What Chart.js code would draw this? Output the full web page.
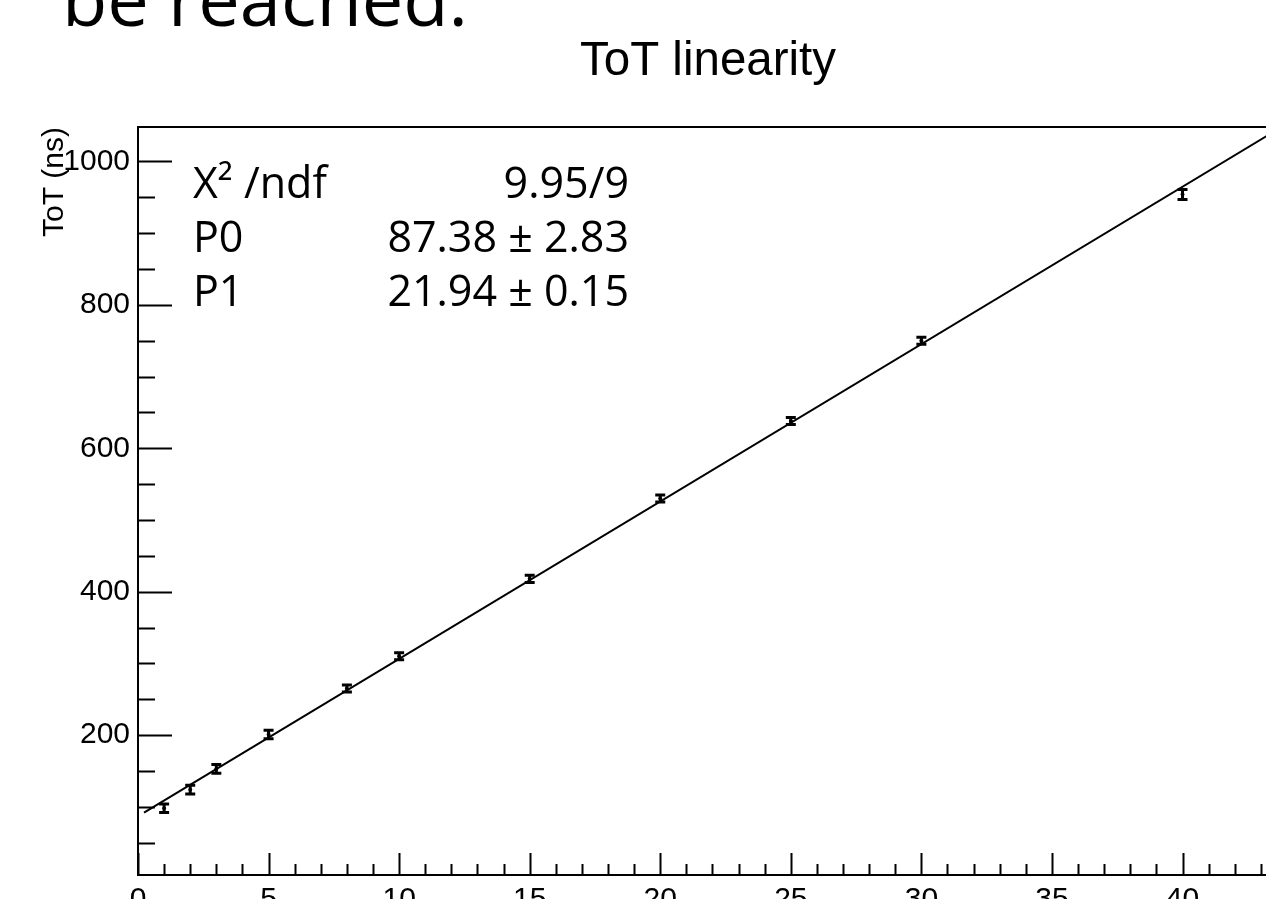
<!DOCTYPE html>
<html>
<head>
<meta charset="utf-8">
<title>ToT linearity</title>
<script src="https://cdn.jsdelivr.net/npm/chart.js@4"></script>
<style>
    html, body { margin: 0; padding: 0; background: #fff; overflow: hidden; width: 1266px; height: 899px; }
    #wrap { position: absolute; left: 0; top: 0; width: 1416px; height: 960px; }
    .slide { position: absolute; left: 62px; top: -39px; font-family: 'Open Sans', sans-serif; font-size: 74px; line-height: 74px; white-space: nowrap; color: #000; }
    .stat { position: absolute; font-family: 'Open Sans', sans-serif; font-size: 43px; line-height: 54px; white-space: nowrap; color: #000; }
    .num { width: 300px; text-align: right; }
</style>
</head>
<body>
<div class="slide">be reached.</div>
<div id="wrap"><canvas id="totChart"></canvas></div>

<div class="stat" style="left:193px; top:155px;">X² /ndf</div>
<div class="stat num" style="left:329px; top:155px;">9.95/9</div>
<div class="stat" style="left:193px; top:209px;">P0</div>
<div class="stat num" style="left:329px; top:209px;">87.38 ± 2.83</div>
<div class="stat" style="left:193px; top:263px;">P1</div>
<div class="stat num" style="left:329px; top:263px;">21.94 ± 0.15</div>

<script>
const pulseX = [1, 2, 3, 5, 8, 10, 15, 20, 25, 30, 40];
const totValues = [98, 124, 153, 201, 265, 310, 418, 530, 638, 750, 954];
const totErrors = [6, 6, 6, 6, 5, 5, 5, 5, 5, 5, 7];

// 피팅 직선 양 끝점
const fitX = [0.23, 43.8];
const fitY = [92, 1048];

// 축 눈금
const xTicks = [0, 5, 10, 15, 20, 25, 30, 35, 40, 45];
const yTicks = [200, 400, 600, 800, 1000];
const xMinorStep = 1;
const yMinorStep = 50;

Chart.defaults.font.family = "'Liberation Sans', Arial, sans-serif";
Chart.defaults.color = '#000';

// ROOT 스타일: 안쪽 눈금, 위/오른쪽 테두리, 오차 막대
const rootFrame = {
    id: 'rootFrame',
    afterDatasetsDraw(chart) {
        const { ctx, chartArea: a, scales: { x, y } } = chart;
        ctx.save();
        ctx.strokeStyle = '#000';
        ctx.lineWidth = 2;
        ctx.beginPath();
        ctx.moveTo(a.left, a.top);
        ctx.lineTo(a.right, a.top);
        ctx.lineTo(a.right, a.bottom);

        for (let v = x.min; v <= x.max + 1e-9; v += xMinorStep) {
            const px = Math.round(x.getPixelForValue(v)) + 0.5;
            const len = xTicks.includes(v) ? 22 : 11;
            ctx.moveTo(px, a.bottom);
            ctx.lineTo(px, a.bottom - len);
        }
        for (let v = Math.ceil(y.min / yMinorStep) * yMinorStep; v <= y.max; v += yMinorStep) {
            const py = Math.round(y.getPixelForValue(v)) + 0.5;
            const len = yTicks.includes(v) ? 34 : 17;
            ctx.moveTo(a.left, py);
            ctx.lineTo(a.left + len, py);
        }
        ctx.stroke();

        // 오차 막대
        ctx.lineWidth = 3;
        ctx.beginPath();
        pulseX.forEach((xv, i) => {
            const px = x.getPixelForValue(xv);
            const top = y.getPixelForValue(totValues[i] + totErrors[i]);
            const bot = y.getPixelForValue(totValues[i] - totErrors[i]);
            ctx.moveTo(px, top);
            ctx.lineTo(px, bot);
            ctx.moveTo(px - 5, top);
            ctx.lineTo(px + 5, top);
            ctx.moveTo(px - 5, bot);
            ctx.lineTo(px + 5, bot);
        });
        ctx.stroke();
        ctx.restore();
    }
};

function initChart() {
    const ctx = document.getElementById('totChart').getContext('2d');
    new Chart(ctx, {
        type: 'scatter',
        data: {
            datasets: [{
                label: 'fit',
                data: fitX.map((v, i) => ({ x: v, y: fitY[i] })),
                showLine: true,
                borderColor: '#000',
                borderWidth: 2,
                pointRadius: 0
            }, {
                label: 'ToT',
                data: pulseX.map((v, i) => ({ x: v, y: totValues[i] })),
                backgroundColor: '#000',
                borderColor: '#000',
                pointRadius: 1.5
            }]
        },
        options: {
            responsive: false,
            animation: false,
            layout: { padding: 0 },
            plugins: {
                legend: { display: false },
                tooltip: { enabled: false },
                title: {
                    display: true,
                    text: 'ToT linearity',
                    color: '#000',
                    font: { size: 47.5, weight: 'normal', lineHeight: 1.2 },
                    padding: { top: 33, bottom: 37 }
                }
            },
            scales: {
                x: {
                    type: 'linear',
                    min: 0,
                    max: 48.75,
                    grid: { display: false },
                    border: { display: true, color: '#000', width: 2 },
                    ticks: { font: { size: 30 }, color: '#000', padding: -1, callback: v => String(v) },
                    afterBuildTicks: s => { s.ticks = xTicks.map(v => ({ value: v })); },
                    afterFit: s => { s.height = 85; }
                },
                y: {
                    type: 'linear',
                    min: 5,
                    max: 1048,
                    grid: { display: false },
                    border: { display: true, color: '#000', width: 2 },
                    ticks: { font: { size: 30 }, color: '#000', padding: 0, callback: v => String(v) },
                    afterBuildTicks: s => { s.ticks = yTicks.map(v => ({ value: v })); },
                    afterFit: s => { s.width = 138; },
                    title: {
                        display: true,
                        text: 'ToT (ns)',
                        align: 'end',
                        color: '#000',
                        font: { size: 30, lineHeight: 1.2 },
                        padding: { top: 36.5, bottom: 0 }
                    }
                }
            }
        },
        plugins: [rootFrame]
    });
}

const canvas = document.getElementById('totChart');
canvas.width = 1416;
canvas.height = 960;
initChart();
</script>
</body>
</html>
